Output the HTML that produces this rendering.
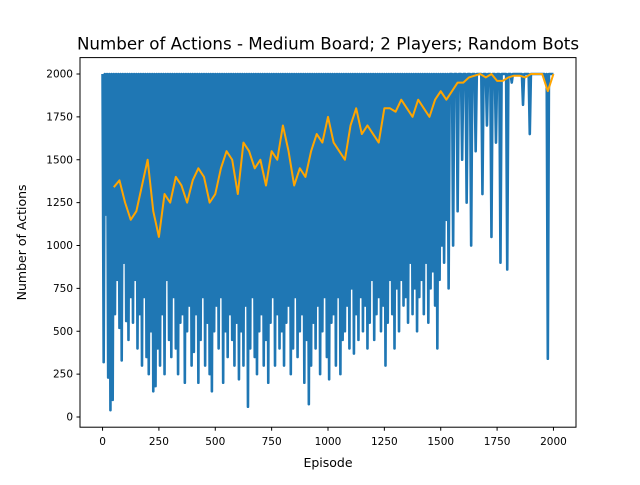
<!DOCTYPE html>
<html><head><meta charset="utf-8"><style>
body{margin:0;background:#fff;font-family:"Liberation Sans","DejaVu Sans",sans-serif}
svg text{font-family:"DejaVu Sans","Liberation Sans",sans-serif}
</style></head><body>
<svg id="chart" width="640" height="480" viewBox="0 0 640 480" xmlns="http://www.w3.org/2000/svg">
<rect width="640" height="480" fill="#fff"/>
<text x="328" y="49.5" font-size="16.7" text-anchor="middle">Number of Actions - Medium Board; 2 Players; Random Bots</text>
<g id="plot"></g>
<rect x="80" y="57.6" width="496" height="369.6" fill="none" stroke="#000" stroke-width="1"/>
<g id="xt"></g>
<g id="yt"></g>
<text x="328" y="467" font-size="12.5" text-anchor="middle">Episode</text>
<text transform="translate(26,242.4) rotate(-90)" font-size="12.5" text-anchor="middle">Number of Actions</text>
</svg>
<script>
const blueLows=[320,1180,230,40,100,600,800,520,330,900,560,450,700,550,800,400,600,300,700,350,
250,500,150,180,400,300,600,250,800,450,350,700,400,250,550,600,200,500,650,300,
380,600,200,450,700,300,550,250,150,500,650,400,700,200,500,350,600,450,300,550,
220,500,300,650,60,400,700,350,250,500,600,300,450,200,550,700,300,600,400,500,
300,550,650,250,400,700,350,500,600,200,450,75,300,550,400,650,250,500,700,350,
220,550,600,300,700,250,450,500,650,400,750,370,600,450,700,500,650,400,550,800,
450,600,700,500,650,300,550,800,600,400,750,500,800,650,700,550,900,600,750,500,
700,800,600,900,550,750,850,650,400,800,1000,900,1150,750,2000,1000,2000,1200,2000,1500,
2000,1250,2000,1000,2000,1550,2000,2000,1300,2000,1700,2000,1050,2000,1600,2000,900,2000,2000,860,
2000,1950,2000,2000,2000,2000,1820,2000,2000,1650,2000,2000,2000,2000,2000,2000,1950,340,2000,2000];
const blueStep=10;
const orangeStart=50, orangeStep=25;
const orangeVals=[1340,1380,1250,1150,1200,1350,1500,1200,1050,1300,1250,1400,1350,1250,1380,1450,1400,1250,1300,1450,1550,1500,1300,1600,1550,1450,1500,1350,1550,1500,1700,1550,1350,1450,1400,1550,1650,1600,1750,1600,1550,1500,1700,1800,1650,1700,1650,1600,1800,1800,1780,1850,1800,1750,1850,1800,1750,1850,1900,1850,1900,1950,1950,1980,1990,2000,1980,2000,1960,1960,1980,1990,1990,1980,2000,2000,2000,1900,2000];
const xTicks=[0,250,500,750,1000,1250,1500,1750,2000];
const yTicks=[0,250,500,750,1000,1250,1500,1750,2000];
const NS="http://www.w3.org/2000/svg";
const X=v=>80+(v+100)/2200*496;
const Y=v=>417.0-v*0.1715;
function mk(t,a,p){const e=document.createElementNS(NS,t);for(const k in a)e.setAttribute(k,a[k]);p.appendChild(e);return e;}
const plot=document.getElementById('plot');
let pts=[];
blueLows.forEach((v,i)=>{const e=i*blueStep;pts.push(X(e)+','+Y(2000));pts.push(X(e+blueStep/2)+','+Y(v));});
pts.push(X(2000)+','+Y(2000));
const bl=mk('polyline',{points:pts.join(' '),fill:'none',stroke:'#1f77b4','stroke-width':2.6,'stroke-linejoin':'round'},plot);


const op=orangeVals.map((v,i)=>X(orangeStart+i*orangeStep)+','+Y(v)).join(' ');
const ol=mk('polyline',{points:op,fill:'none',stroke:'#ffa500','stroke-width':2,'stroke-linejoin':'round'},plot);


const xt=document.getElementById('xt'),yt=document.getElementById('yt');
xTicks.forEach(v=>{const x=X(v);mk('line',{x1:x,x2:x,y1:427.2,y2:430.7,stroke:'#000'},xt);
const t=mk('text',{x:x,y:445,'font-size':10.5,'text-anchor':'middle'},xt);t.textContent=v;
});
yTicks.forEach(v=>{const y=Y(v);mk('line',{x1:76.5,x2:80,y1:y,y2:y,stroke:'#000'},yt);
const t=mk('text',{x:73,y:y+3.5,'font-size':10.5,'text-anchor':'end'},yt);t.textContent=v;
});
</script>
</body></html>
